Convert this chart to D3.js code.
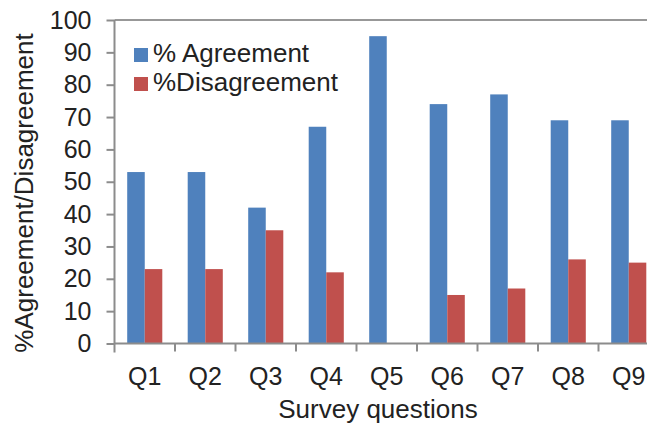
<!DOCTYPE html>
<html>
<head>
<meta charset="utf-8">
<script src="https://cdn.jsdelivr.net/npm/d3@7"></script>
<style>
  body { margin: 0; background: #fff; }
  svg { display: block; font-family: "Liberation Sans", Arial, sans-serif; }
</style>
</head>
<body>
<svg id="chart" width="647" height="427"></svg>
<script>
var categories = ["Q1", "Q2", "Q3", "Q4", "Q5", "Q6", "Q7", "Q8", "Q9"];
var seriesNames = ["% Agreement", "%Disagreement"];
var agreement = [53, 53, 42, 67, 95, 74, 77, 69, 69];
var disagreement = [23, 23, 35, 22, 0, 15, 17, 26, 25];
var yTicks = [0, 10, 20, 30, 40, 50, 60, 70, 80, 90, 100];

var colors = {"% Agreement": "#4F81BD", "%Disagreement": "#C0504D"};

// plot area
var plotLeft = 114.5, plotTop = 20, plotBottom = 343.5;
var step = 60.5;

var svg = d3.select("#chart");

var x = d3.scaleBand()
    .domain(categories)
    .range([plotLeft, plotLeft + step * categories.length])
    .paddingInner(0.42)
    .paddingOuter(0.21);

var xs = d3.scaleBand()
    .domain(seriesNames)
    .range([0, x.bandwidth()]);

var y = d3.scaleLinear()
    .domain([0, 100])
    .range([plotBottom, plotTop]);

var rows = categories.map(function(c, i) {
  return {cat: c, values: [
    {name: seriesNames[0], v: agreement[i]},
    {name: seriesNames[1], v: disagreement[i]}
  ]};
});

// top border of plot area
svg.append("line")
    .attr("x1", plotLeft).attr("x2", 647)
    .attr("y1", plotTop).attr("y2", plotTop)
    .attr("stroke", "#333").attr("stroke-width", 1.2);

// bars
var groups = svg.append("g").selectAll("g")
    .data(rows)
  .enter().append("g")
    .attr("transform", function(d) { return "translate(" + x(d.cat) + ",0)"; });

groups.selectAll("rect")
    .data(function(d) { return d.values; })
  .enter().append("rect")
    .attr("x", function(d) { return xs(d.name); })
    .attr("width", xs.bandwidth())
    .attr("y", function(d) { return y(d.v); })
    .attr("height", function(d) { return plotBottom - y(d.v); })
    .attr("fill", function(d) { return colors[d.name]; });

// y axis
var yAxis = svg.append("g")
    .attr("transform", "translate(" + plotLeft + ",0)")
    .call(d3.axisLeft(y).tickValues(yTicks).tickSize(8).tickPadding(15));
yAxis.select(".domain").remove();
yAxis.selectAll(".tick line").attr("stroke", "#8c8c8c").attr("stroke-width", 2);
yAxis.selectAll("text")
    .attr("font-size", 25).attr("fill", "#222")
    .attr("font-family", "Liberation Sans, Arial, sans-serif");

svg.append("line")
    .attr("x1", plotLeft).attr("x2", plotLeft)
    .attr("y1", plotTop).attr("y2", plotBottom + 9)
    .attr("stroke", "#8c8c8c").attr("stroke-width", 2);

// x axis
svg.append("line")
    .attr("x1", plotLeft).attr("x2", 647)
    .attr("y1", plotBottom).attr("y2", plotBottom)
    .attr("stroke", "#8c8c8c").attr("stroke-width", 2);

var xAxis = svg.append("g")
    .attr("transform", "translate(0," + plotBottom + ")")
    .call(d3.axisBottom(x).tickSize(0).tickPadding(24));
xAxis.select(".domain").remove();
xAxis.selectAll("text")
    .attr("font-size", 25).attr("fill", "#222")
    .attr("font-family", "Liberation Sans, Arial, sans-serif");

// category boundary ticks
svg.append("g").selectAll("line")
    .data(categories.slice(1))
  .enter().append("line")
    .attr("x1", function(d) { return x(d) - x.step() * x.paddingInner() / 2; })
    .attr("x2", function(d) { return x(d) - x.step() * x.paddingInner() / 2; })
    .attr("y1", plotBottom).attr("y2", plotBottom + 8)
    .attr("stroke", "#8c8c8c").attr("stroke-width", 2);

// axis titles
svg.append("text")
    .attr("x", 378)
    .attr("y", 418)
    .attr("text-anchor", "middle")
    .attr("font-size", 26).attr("fill", "#222")
    .text("Survey questions");

svg.append("text")
    .attr("transform", "translate(33,193) rotate(-90)")
    .attr("text-anchor", "middle")
    .attr("font-size", 26).attr("fill", "#222")
    .text("%Agreement/Disagreement");

// legend
var legend = svg.append("g").selectAll("g")
    .data(seriesNames)
  .enter().append("g")
    .attr("transform", function(d, i) { return "translate(134," + (48 + i * 29) + ")"; });

legend.append("rect")
    .attr("width", 14).attr("height", 14)
    .attr("fill", function(d) { return colors[d]; });

legend.append("text")
    .attr("x", 19).attr("y", 14)
    .attr("font-size", 26).attr("fill", "#222")
    .text(function(d) { return d; });
</script>
</body>
</html>
